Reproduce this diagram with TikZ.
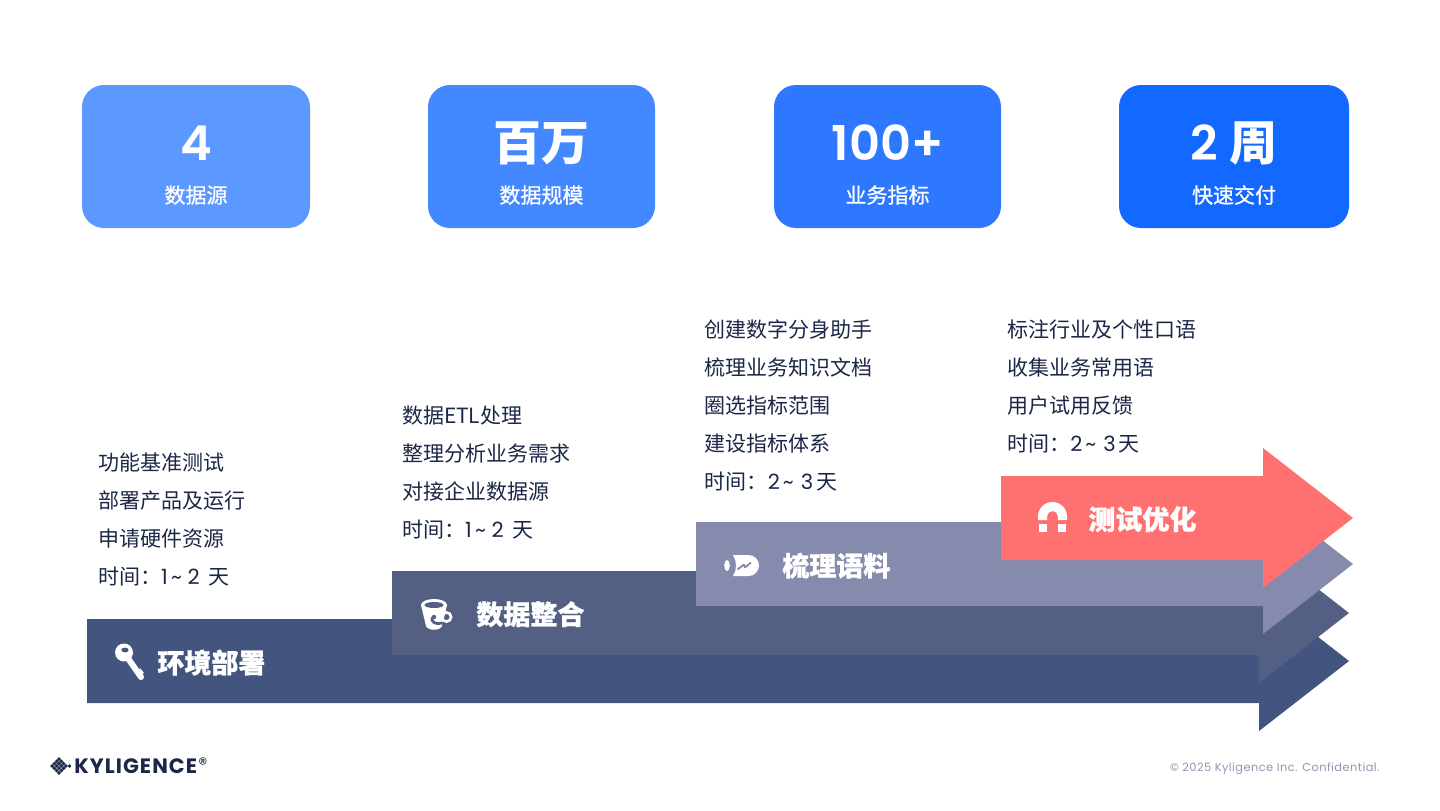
\documentclass[tikz,border=0pt]{standalone}
\usepackage{fontspec}
\setmainfont{Noto Sans CJK SC}
\newfontfamily\numfont{Poppins}[BoldFont=* SemiBold]
\newfontfamily\brandfont{Poppins}[LetterSpace=5]
\newfontfamily\footfont{Poppins}[LetterSpace=4]
\newfontfamily\medfont{Noto Sans CJK SC}[FakeBold=0.9]
\newfontfamily\heavyfont{Noto Sans CJK SC}[BoldFeatures={FakeBold=0.8}]
\usetikzlibrary{positioning}
\definecolor{boxa}{HTML}{5B98FF}
\definecolor{boxb}{HTML}{4488FF}
\definecolor{boxc}{HTML}{2E78FF}
\definecolor{boxd}{HTML}{1268FF}
\definecolor{arra}{HTML}{43547F}
\definecolor{arrb}{HTML}{545F84}
\definecolor{arrc}{HTML}{868BAD}
\definecolor{arrd}{HTML}{FF7070}
\definecolor{inktext}{HTML}{1B2747}
\definecolor{foottext}{HTML}{8E95B0}
\newcommand{\dayone}{时间\char"FF1A{\numfont 1\,\char"7E\hspace{2.8pt}2}\hspace{4.5pt}天}
\newcommand{\daytwo}{时间\char"FF1A{\numfont 2\hspace{1.5pt}\char"7E\hspace{3.5pt}3}\hspace{1.5pt}天}
\tikzset{
  statbox/.style={rounded corners=11pt,inner sep=0pt,outer sep=0pt,minimum height=71.5pt},
  statnum/.style={anchor=base,text=white,font=\fontsize{24}{25}\selectfont\bfseries,inner sep=0pt},
  statlabel/.style={anchor=base,text=white,font=\medfont\fontsize{10.5}{12}\selectfont,inner sep=0pt},
  linetext/.style={anchor=base west,text=inktext,font=\fontsize{10.5}{12}\selectfont,inner sep=0pt},
  steptitle/.style={anchor=base west,text=white,font=\heavyfont\fontsize{13.5}{15}\selectfont\bfseries,inner sep=0pt},
}
\begin{document}
\begin{tikzpicture}[x=0.5pt,y=-0.5pt]
  \useasboundingbox (0,0) rectangle (1440,810);
  % top row
  \foreach \i/\x/\w/\col/\num/\lab in {
    1/196/114/boxa/{\numfont 4}/数据源,
    2/541.5/113.5/boxb/百万/数据规模,
    3/887.5/113.5/boxc/{\numfont 100+}/业务指标,
    4/1234/115/boxd/{{\numfont 2} 周}/快速交付}
  {
    \node[statbox,fill=\col,minimum width=\w pt] (box\i) at (\x,156.5) {};
    \node[statnum] (num\i) at (\x,160.5) {\num};
    \node[statlabel] (lab\i) at (\x,203) {\lab};
  }
  % arrows, back to front
  \foreach \xa/\xb/\xc/\ym/\col in {
    87/1259/1349/661/arra,
    392/1259/1349/613/arrb,
    696/1263/1353/564/arrc,
    1001/1263/1353/518/arrd}
  {
    \fill[\col] (\xa,\ym-42) -- (\xb,\ym-42) -- (\xb,\ym-70) -- (\xc,\ym)
      -- (\xb,\ym+70) -- (\xb,\ym+42) -- (\xa,\ym+42) -- cycle;
  }
  \node[steptitle] (titlea) at (157,673) {环境部署};
  \node[steptitle] (titleb) at (476,624.5) {数据整合};
  \node[steptitle] (titlec) at (782,576) {梳理语料};
  \node[steptitle] (titled) at (1088,529.5) {测试优化};
  % lists
  \foreach \t [count=\n from 0] in {功能基准测试,部署产品及运行,申请硬件资源,\dayone}
    \node[linetext] (lista\n) at (97.6,470.5+38*\n) {\t};
  \foreach \t [count=\n from 0] in {数据ETL处理,整理分析业务需求,对接企业数据源,\dayone}
    \node[linetext] (listb\n) at (401.6,423.5+38*\n) {\t};
  \foreach \t [count=\n from 0] in {创建数字分身助手,梳理业务知识文档,圈选指标范围,建设指标体系,\daytwo}
    \node[linetext] (listc\n) at (704.5,337.5+38*\n) {\t};
  \foreach \t [count=\n from 0] in {标注行业及个性口语,收集业务常用语,用户试用反馈,\daytwo}
    \node[linetext] (listd\n) at (1007,337.5+38*\n) {\t};
  % key
  \draw[white,line width=3pt,line cap=round] (125,654) -- (141,677);
  \fill[white] (140,668) -- (144,673) -- (137,676) -- cycle;
  \fill[white] (124,652.5) circle[radius=9];
  \fill[arra] (125,650) ellipse[x radius=3.6,y radius=2.4];
  % cup
  \draw[white,line width=1.3pt] (446.5,617) circle[radius=4.6];
  \fill[white] (421,605) -- (447,605) -- (442,626) .. controls (440,631) and (428,631) .. (426,626) -- cycle;
  \fill[white] (434,605) ellipse[x radius=13,y radius=6];
  \fill[arrb] (434,605) ellipse[x radius=9.5,y radius=3];
  \draw[arrb,line width=1.4pt,line cap=round] (432,618) .. controls (431,622) and (436,625) .. (442,623);
  \fill[arrb] (434,617) circle[radius=2.2];
  % roll
  \fill[white] (733,555) -- (748.5,555) arc[start angle=-90,end angle=90,radius=10.5] -- (733,576)
    .. controls (737,570) and (737,561) .. (733,555) -- cycle;
  \fill[white] (727,565.5) ellipse[x radius=2.8,y radius=5.5];
  \draw[arrc,line width=0.9pt,line join=bevel] (737.5,569.5) -- (744,564.5) -- (745,567.5) -- (751,562.5);
  % magnet
  \fill[white] (1038,520) -- (1038,516.5) arc[start angle=180,end angle=360,radius=14.5] -- (1067,520)
    -- (1058,520) -- (1058,516.5) arc[start angle=0,end angle=-180,radius=5.5] -- (1047,520) -- cycle;
  \fill[white] (1039,523.5) rectangle (1047,531.5);
  \fill[white] (1058,523.5) rectangle (1066,531.5);
  % logo
  \foreach \i in {0,...,3}
    \foreach \j in {0,...,3}
      \fill[inktext] (59+2.3*\i-2.3*\j,759+2.3*\i+2.3*\j) +(-2,0) -- +(0,-2) -- +(2,0) -- +(0,2) -- cycle;
  \fill[inktext] (69.5,766) +(-1.8,0) -- +(0,-1.8) -- +(1.8,0) -- +(0,1.8) -- cycle;
  \node[anchor=base west,inner sep=0pt,text=inktext,font=\brandfont\fontsize{10.4}{12}\selectfont\bfseries] (brand) at (74,773) {KYLIGENCE};
  \node[anchor=base west,inner sep=0pt,text=inktext,font=\numfont\fontsize{9}{9}\selectfont] (brandr) at (198,770) {®};
  \node[anchor=base east,inner sep=0pt,text=foottext,font=\footfont\fontsize{5.7}{8}\selectfont] (copy) at (1380,771.5) {© 2025 Kyligence Inc. Confidential.};
\end{tikzpicture}
\end{document}
